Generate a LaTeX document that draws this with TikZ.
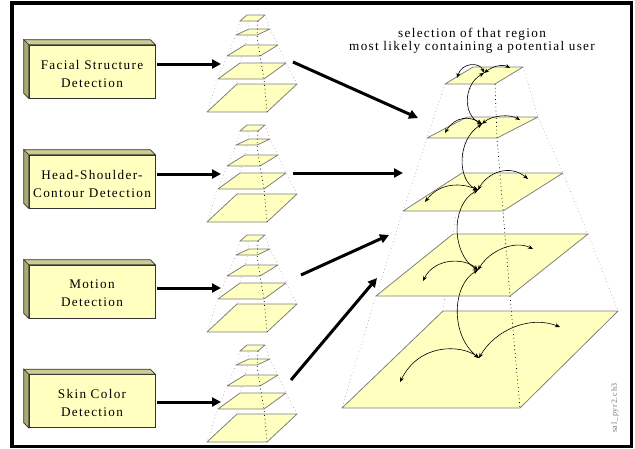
\documentclass[tikz,border=0pt]{standalone}
\usepackage{fontspec}
\setmainfont{Liberation Serif}
\newfontfamily\spacedfont{Liberation Serif}[LetterSpace=10]
\usetikzlibrary{arrows.meta,calc}
\definecolor{paleyellow}{RGB}{255,255,192}
\definecolor{boxtop}{RGB}{204,204,145}
\definecolor{boxside}{RGB}{170,170,110}
\definecolor{edgegray}{RGB}{128,128,128}
\newcommand{\smallpyr}{%
  \draw[dotgray] (240,21) -- (236,35) -- (227,56) -- (218,79) -- (207,112);
  \draw[dotgray] (265,15) -- (270,29) -- (278,45) -- (286,63) -- (297,84);
  \draw[dotgray] (247,15) -- (249,29) -- (245,45) -- (240,63) -- (237,84);
  \draw[plane] (237,84) -- (297,84) -- (267,112) -- (207,112) -- cycle;
  \draw[plane] (240,63) -- (286,63) -- (264,79) -- (218,79) -- cycle;
  \draw[plane] (245,45) -- (278,45) -- (260,56) -- (227,56) -- cycle;
  \draw[plane] (249,29) -- (270,29) -- (257,35) -- (236,35) -- cycle;
  \draw[plane] (247,15) -- (265,15) -- (258,21) -- (240,21) -- cycle;
  \draw[dotblack] (258,21) -- (257,35) -- (260,56) -- (264,79) -- (267,112);
}
\begin{document}
\begin{tikzpicture}[x=1pt,y=-1pt,
  box/.style={draw=black!80, line width=0.6pt, fill=paleyellow, minimum width=126pt,
    minimum height=53pt, inner sep=0pt},
  boxtext/.style={inner sep=0pt, align=center,
    font=\spacedfont\fontsize{13.2}{18}\selectfont},
  plane/.style={fill=paleyellow, draw=edgegray, line width=0.8pt, line join=round},
  dotgray/.style={draw=black!45, line width=0.5pt, dash pattern=on 0.6pt off 3pt},
  dotblack/.style={draw=black, line width=0.7pt, dash pattern=on 0.8pt off 3pt},
  fatarrow/.style={line width=3pt, -{Triangle[length=9pt,width=9pt]}},
  selarc/.style={line width=0.6pt, {Stealth[length=5pt,width=4pt]}-{Stealth[length=5pt,width=4pt]}}]
\useasboundingbox (0,0) rectangle (635,448);
\fill[white] (0,0) rectangle (635,448);
\draw[line width=3.5pt] (12,3) rectangle (631.5,446.5);

% detection boxes
\foreach \n/\yy/\txt in {1/71.5/{Facial Structure\\Detection},
                         2/181.5/{Head-Shoulder-\\Contour Detection},
                         3/291.5/{Motion\\Detection},
                         4/401/{Skin Color\\Detection}} {
  \node[box] (b\n) at (92,\yy) {};
  \filldraw[fill=boxtop, draw=black!80, line width=0.6pt]
    (b\n.north west) -- ++(-5,-5) -- ($(b\n.north east)+(-5,-5)$) -- (b\n.north east) -- cycle;
  \filldraw[fill=boxside, draw=black!80, line width=0.6pt]
    (b\n.north west) -- ++(-5,-5) -- ($(b\n.south west)+(-5,-5)$) -- (b\n.south west) -- cycle;
  \node[boxtext] (bt\n) at ($(b\n)+(0,2)$) {\txt};
}

% small pyramids
\foreach \dy in {0,110,220,330} {
  \begin{scope}[shift={(0,\dy)}]
    \smallpyr
  \end{scope}
}

% big pyramid
\draw[dotgray] (445,84) -- (427,138) -- (403,211) -- (376,296) -- (342,408);
\draw[dotgray] (523,67) -- (538,117) -- (563,173) -- (588,234) -- (618,311);
\draw[dotgray] (473,67) -- (467,117) -- (462,173) -- (453,234) -- (443,311);
\draw[plane] (443,311) -- (618,311) -- (520,408) -- (342,408) -- cycle;
\draw[plane] (453,234) -- (588,234) -- (510,296) -- (376,296) -- cycle;
\draw[plane] (462,173) -- (563,173) -- (503,211) -- (403,211) -- cycle;
\draw[plane] (467,117) -- (538,117) -- (497,138) -- (427,138) -- cycle;
\draw[plane] (473,67) -- (523,67) -- (495,84) -- (445,84) -- cycle;
\draw[dotblack] (495,84) -- (497,138) -- (503,211) -- (510,296) -- (520,408);

% selection arcs
\coordinate (c1) at (484,73);
\coordinate (c2) at (482,124);
\coordinate (c3) at (478,190);
\coordinate (c4) at (478,270);
\coordinate (c5) at (479,358);
\coordinate (l1) at (457,78);  \coordinate (r1) at (510,68);
\coordinate (l2) at (445,133); \coordinate (r2) at (520,120);
\coordinate (l3) at (425,202); \coordinate (r3) at (528,179);
\coordinate (l4) at (423,281); \coordinate (r4) at (533,249);
\coordinate (l5) at (400,382); \coordinate (r5) at (560,327);
\draw[selarc] (c1) .. controls (480,62) and (462,62) .. (l1);
\draw[selarc] (c1) .. controls (493,66) and (503,64) .. (r1);
\draw[selarc] (c1) .. controls (463,85) and (463,115) .. (c2);
\draw[selarc] (c2) .. controls (470,116) and (455,116) .. (l2);
\draw[selarc] (c2) .. controls (492,115) and (510,114) .. (r2);
\draw[selarc] (c2) .. controls (457,140) and (457,180) .. (c3);
\draw[selarc] (c3) .. controls (462,183) and (440,182) .. (l3);
\draw[selarc] (c3) .. controls (488,172) and (510,164) .. (r3);
\draw[selarc] (c3) .. controls (450,205) and (452,255) .. (c4);
\draw[selarc] (c4) .. controls (465,258) and (435,257) .. (l4);
\draw[selarc] (c4) .. controls (490,250) and (515,240) .. (r4);
\draw[selarc] (c4) .. controls (452,285) and (450,335) .. (c5);
\draw[selarc] (c5) .. controls (462,345) and (420,342) .. (l5);
\draw[selarc] (c5) .. controls (495,330) and (530,315) .. (r5);

% arrows box -> small pyramid
\coordinate (s1) at (221,64);
\coordinate (s2) at (221,174);
\coordinate (s3) at (221,288);
\coordinate (s4) at (221,402);
\foreach \n in {1,2,3,4} {
  \draw[fatarrow, shorten <=2pt] (b\n.east |- s\n) -- (s\n);
}

% arrows small pyramid -> big pyramid
\coordinate (o1) at (293,62);  \coordinate (t1) at (418,118);
\coordinate (o2) at (293,173); \coordinate (t2) at (403,173);
\coordinate (o3) at (301,275); \coordinate (t3) at (389,235);
\coordinate (o4) at (291,380); \coordinate (t4) at (377,278);
\foreach \n in {1,2,3,4} {
  \draw[fatarrow] (o\n) -- (t\n);
}

% title
\node[align=center, inner sep=0pt, font=\spacedfont\fontsize{13.2}{13}\selectfont]
  (title) at (472,40.5) {selection of that region\\most likely containing a potential user};

% file tag
\node[rotate=90, inner sep=0pt, text=black!55, font=\spacedfont\fontsize{8}{8}\selectfont]
  (tag) at (615,408) {sal\_pyr2.ch3};
\end{tikzpicture}
\end{document}
